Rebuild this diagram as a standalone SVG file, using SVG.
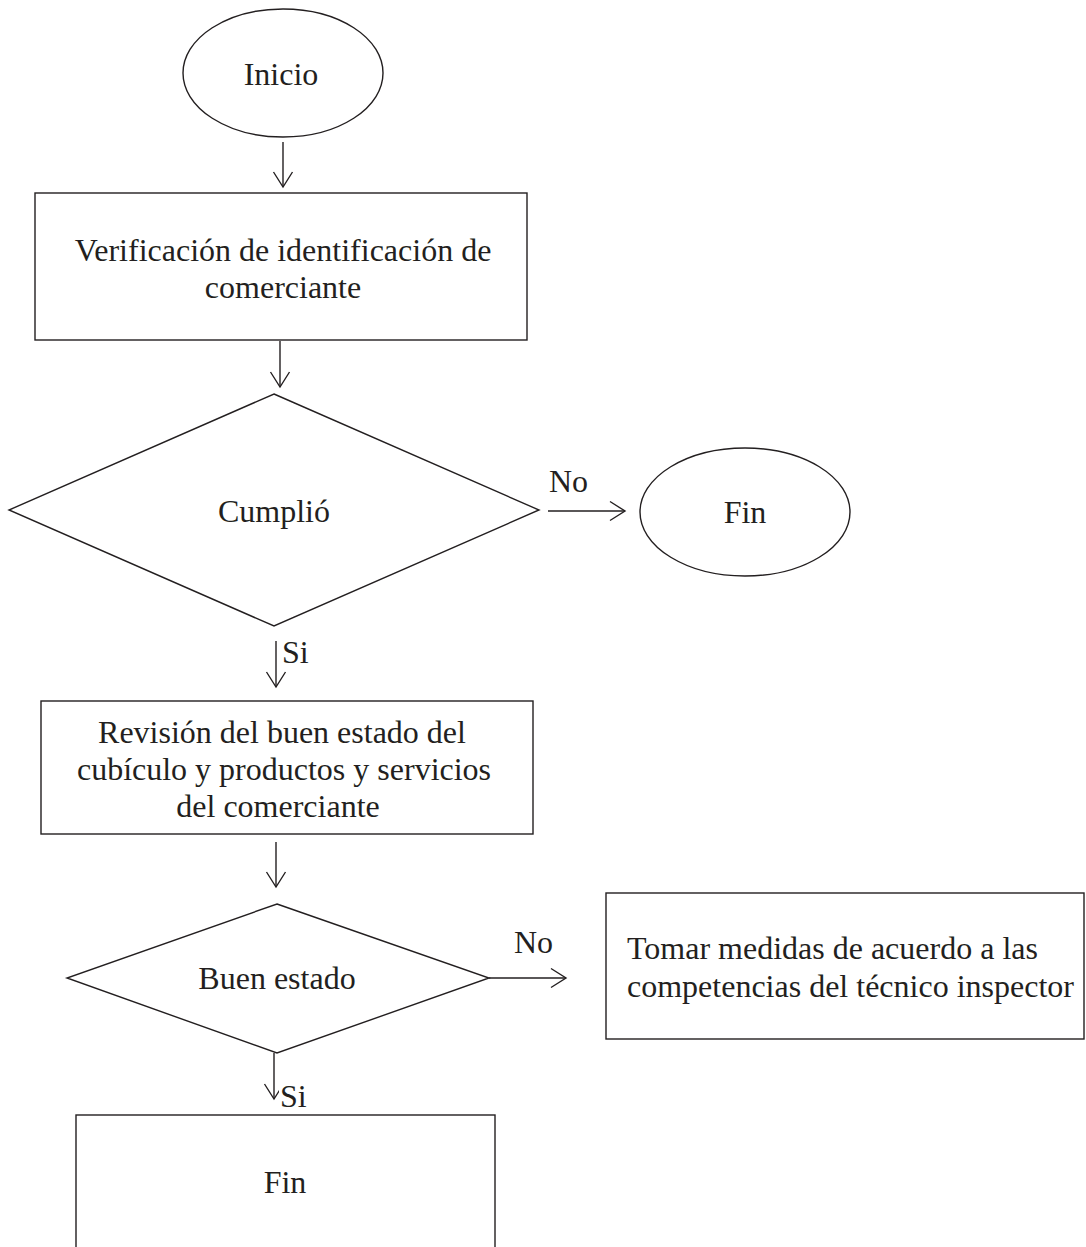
<svg xmlns="http://www.w3.org/2000/svg" width="1086" height="1247" viewBox="0 0 1086 1247">
<style>
.shape{fill:#ffffff;stroke:#231f20;stroke-width:1.4}
.conn{fill:none;stroke:#231f20;stroke-width:1.4}
.t{font-family:"Liberation Serif","Times New Roman",serif;font-size:32px;fill:#231f20}
.c{text-anchor:middle}
</style>
<defs>
<marker id="arr" viewBox="-17 -12 20 24" refX="0" refY="0" markerWidth="20" markerHeight="24" markerUnits="userSpaceOnUse" orient="auto">
<path d="M-15,-9.5 L0,0 L-15,9.5" fill="none" stroke="#231f20" stroke-width="1.4"/>
</marker>
</defs>
<rect width="1086" height="1247" fill="#ffffff"/>
<g id="connectors">
<line class="conn" x1="283" y1="142" x2="283" y2="187" marker-end="url(#arr)"/>
<line class="conn" x1="280" y1="341" x2="280" y2="387" marker-end="url(#arr)"/>
<line class="conn" x1="548" y1="511" x2="625" y2="511" marker-end="url(#arr)"/>
<line class="conn" x1="276" y1="641" x2="276" y2="687" marker-end="url(#arr)"/>
<line class="conn" x1="276" y1="842" x2="276" y2="887" marker-end="url(#arr)"/>
<line class="conn" x1="489" y1="978" x2="566" y2="978" marker-end="url(#arr)"/>
<line class="conn" x1="274" y1="1053" x2="274" y2="1099" marker-end="url(#arr)"/>
<text class="t" x="549" y="492">No</text>
<text class="t" x="282" y="663">Si</text>
<text class="t" x="514" y="953">No</text>
<rect x="279" y="1080" width="28" height="32" fill="#ffffff"/>
<text class="t" x="280" y="1107">Si</text>
</g>
<g id="inicio">
<ellipse class="shape" cx="283" cy="73" rx="100" ry="64"/>
<text class="t c" x="281" y="85">Inicio</text>
</g>
<g id="verificacion">
<rect class="shape" x="35" y="193" width="492" height="147"/>
<text class="t c" x="283" y="261">Verificación de identificación de</text>
<text class="t c" x="283" y="298">comerciante</text>
</g>
<g id="cumplio">
<polygon class="shape" points="274,394 539,510 274,626 9,510"/>
<text class="t c" x="274" y="522">Cumplió</text>
</g>
<g id="fin1">
<ellipse class="shape" cx="745" cy="512" rx="105" ry="64"/>
<text class="t c" x="745" y="523">Fin</text>
</g>
<g id="revision">
<rect class="shape" x="41" y="701" width="492" height="133"/>
<text class="t c" x="282" y="743">Revisión del buen estado del</text>
<text class="t c" x="284" y="780">cubículo y productos y servicios</text>
<text class="t c" x="278" y="817">del comerciante</text>
</g>
<g id="buenestado">
<polygon class="shape" points="277,904 489,978 277,1053 67,978"/>
<text class="t c" x="277" y="989">Buen estado</text>
</g>
<g id="tomar">
<rect class="shape" x="606" y="893" width="478" height="146"/>
<text class="t" x="627" y="959">Tomar medidas de acuerdo a las</text>
<text class="t" x="627" y="997">competencias del técnico inspector</text>
</g>
<g id="fin2">
<rect class="shape" x="76" y="1115" width="419" height="150"/>
<text class="t c" x="285" y="1193">Fin</text>
</g>
</svg>
